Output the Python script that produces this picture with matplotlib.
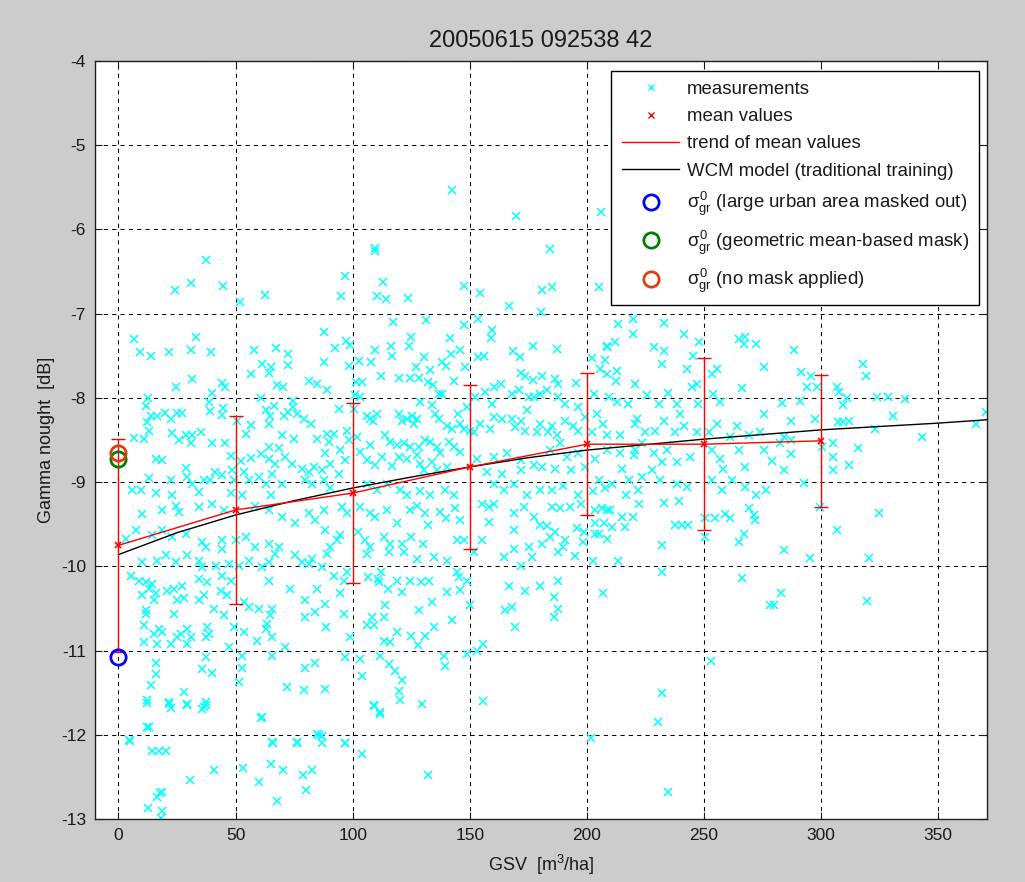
import matplotlib
matplotlib.use("Agg")
import matplotlib.pyplot as plt
from matplotlib.lines import Line2D

plt.rcParams['font.family'] = ['Liberation Sans', 'DejaVu Sans']
plt.rcParams['mathtext.fontset'] = 'custom'
plt.rcParams['mathtext.rm'] = 'Liberation Sans'
plt.rcParams['mathtext.it'] = 'Liberation Sans'
plt.rcParams['axes.unicode_minus'] = False

title = "20050615 092538 42"

meas_upper_left = [
    (37.2, -6.36), (24, -6.72), (30.8, -6.64), (44.5, -6.67), (51.7, -6.86), (62.4, -6.78),
    (6.7, -7.30), (9.2, -7.46), (14.1, -7.50), (21.6, -7.46), (30.8, -7.43), (33.2, -7.28),
    (39.5, -7.46), (58, -7.43), (67.2, -7.41), (72.4, -7.48), (61.5, -7.60), (65.2, -7.64),
    (64.5, -7.70), (72.2, -7.61), (56.7, -7.72), (31.2, -7.78), (24.6, -7.87), (44.3, -7.82),
    (45.7, -7.87), (40.1, -7.94), (67.8, -7.85), (70.3, -7.87), (81.3, -7.80), (84.8, -7.83),
]
meas_mid_left = [
    (12.6, -8.0), (11.6, -8.10), (38.6, -8.05), (38.9, -8.16), (44.8, -8.12), (44.3, -8.20),
    (60.9, -8.0), (63.1, -8.15), (66.3, -8.10), (74.7, -8.04), (74.4, -8.11), (14.1, -8.21),
    (16.6, -8.22), (19.7, -8.18), (22.3, -8.25), (25.1, -8.18), (27, -8.18), (12.4, -8.29),
    (13.1, -8.39), (6.8, -8.48), (10.9, -8.49), (23, -8.42), (25.9, -8.50), (28.7, -8.44),
    (31.5, -8.44), (30.8, -8.54), (35.1, -8.41), (40.1, -8.54), (45.4, -8.54), (50.7, -8.27),
    (56.7, -8.32), (54.5, -8.43), (64.2, -8.31), (64.9, -8.22), (69.9, -8.44), (70.6, -8.21),
    (72.4, -8.17), (76.3, -8.19), (79.1, -8.25), (82.4, -8.31), (75.1, -8.49), (84.7, -8.49),
    (48, -8.69), (52.4, -8.75), (56.8, -8.71), (60.9, -8.67), (64.2, -8.58), (68.5, -8.59),
    (64.2, -8.73), (67, -8.78), (71.3, -8.70), (74.1, -8.78), (78.4, -8.84), (81.3, -8.88),
    (83.4, -8.82), (15.9, -8.72), (18.8, -8.74), (28.7, -8.83), (13.1, -8.95), (22.3, -8.98),
    (29.4, -8.94), (31.5, -9.02), (36.5, -8.98), (39.3, -8.98), (41.2, -8.88), (44.3, -8.92),
    (48.6, -8.86), (49.3, -8.98), (53.5, -8.88), (55.7, -8.98), (59.9, -8.94), (62.8, -9.02),
    (65.6, -8.90), (69.9, -9.02), (6, -9.09), (9.5, -9.09), (15.9, -9.13), (23, -9.15),
    (34.4, -9.12), (47.9, -9.13), (52.8, -9.15), (65.2, -9.15), (79.8, -8.98), (82.7, -9.02),
]
meas_upper_center = [
    (142.6, -5.53), (169.6, -5.84), (109.5, -6.22), (184.4, -6.24), (206, -5.80),
    (109.7, -6.26), (96.9, -6.55), (112.8, -6.62), (95, -6.79), (110.4, -6.79), (114.2, -6.83),
    (123.5, -6.81), (147.7, -6.67), (154.6, -6.76), (166.8, -6.91), (180.9, -6.72), (180.5, -6.98),
    (87.6, -7.22), (117.2, -7.10), (131.5, -7.08), (147.7, -7.14), (153.4, -7.07), (159.5, -7.19),
    (159.1, -7.29), (92.6, -7.41), (97.3, -7.32), (98.7, -7.37), (109.7, -7.43), (116.5, -7.39),
    (116.8, -7.50), (124.9, -7.28), (123.9, -7.39), (141.7, -7.29), (145.7, -7.43), (130.3, -7.51),
    (87.6, -7.57), (102.8, -7.56), (107.8, -7.58), (98.3, -7.62), (112.3, -7.74), (119.7, -7.76),
    (124.7, -7.76), (127.2, -7.64), (128.2, -7.76), (133.2, -7.67), (132.1, -7.81), (134.3, -7.85),
    (138.2, -7.57), (140, -7.62), (142.2, -7.48), (143.2, -7.80), (148.1, -7.64), (153.6, -7.51),
    (156, -7.50), (168.5, -7.44), (171.4, -7.51), (176.9, -7.39), (171.7, -7.70), (173.8, -7.74),
    (176.9, -7.79), (180.9, -7.74), (101.6, -7.81), (104, -7.81), (89, -7.91), (101.1, -7.97),
    (103.3, -7.99), (136.8, -7.95), (138.3, -7.95), (148.9, -8.11), (152.4, -7.99), (156.7, -7.93),
    (160.3, -7.87), (163.2, -7.83), (168.1, -7.95), (171, -7.91), (175.2, -7.99), (177.4, -7.99),
    (180.2, -7.96),
]
meas_mid_center = [
    (94, -8.13), (100.4, -8.13), (106.1, -8.21), (107.5, -8.25), (110.4, -8.19), (108.9, -8.27),
    (119.7, -8.19), (121.1, -8.27), (123.2, -8.25), (125.3, -8.21), (127.4, -8.25), (126, -8.31),
    (128.9, -8.05), (133.9, -8.09), (135.3, -8.19), (136.8, -8.25), (140.3, -8.33), (142.5, -8.37),
    (145, -8.19), (146, -8.31), (147.4, -8.37), (150, -8.39), (151.7, -8.41), (154.6, -8.31),
    (158.8, -8.37), (159.5, -8.07), (160.3, -8.23), (163.9, -8.25), (168.1, -8.25), (169.5, -8.35),
    (171.7, -8.27), (173.8, -8.39), (178.8, -8.41), (180.2, -8.31), (174.5, -8.14), (89, -8.43),
    (91.9, -8.43), (89.7, -8.52), (97.6, -8.39), (98.3, -8.50), (101.9, -8.46), (107.5, -8.56),
    (114, -8.44), (116.1, -8.52), (119, -8.56), (121.8, -8.54), (124.7, -8.58), (128.2, -8.58),
    (131, -8.50), (133.2, -8.52), (136, -8.58), (141, -8.52), (143.2, -8.58), (146, -8.64),
    (88.3, -8.66), (94.7, -8.62), (103.3, -8.64), (96.9, -8.74), (90.5, -8.78), (106.1, -8.74),
    (112.5, -8.70), (109.7, -8.80), (119.7, -8.70), (116.8, -8.81), (123.2, -8.72), (127.4, -8.68),
    (128.9, -8.78), (133.9, -8.76), (137.5, -8.66), (130.3, -8.86), (136, -8.86), (140.3, -8.82),
    (153.1, -8.72), (160.3, -8.70), (165.9, -8.66), (171.7, -8.74), (177.4, -8.80), (157.4, -8.88),
    (163.8, -8.90), (171.7, -8.86), (180.9, -8.82), (86.9, -8.86), (94, -8.90), (87.8, -8.98),
    (90.5, -9.07), (106.1, -9.02), (110.4, -9.09), (114.7, -9.02), (120.4, -9.09), (123.2, -9.15),
    (128.9, -9.11), (133.2, -9.15), (139.6, -9.09), (143.2, -9.15), (160.3, -9.02), (164.5, -9.09),
    (168.8, -9.02), (174.5, -9.15), (180.2, -9.09),
]
meas_upper_right = [
    (185.1, -6.69), (205.3, -6.69), (213.5, -7.12), (219.7, -7.07), (219.7, -7.24), (233, -7.11),
    (241.3, -7.24), (247.7, -7.34), (187.2, -7.42), (208.5, -7.38), (212.1, -7.34), (208.8, -7.40),
    (228.5, -7.40), (233, -7.44), (232.3, -7.60), (245.3, -7.50), (264.8, -7.30), (267.7, -7.28),
    (267, -7.36), (272.4, -7.36), (275.6, -7.63), (202.1, -7.53), (207.8, -7.55), (205.7, -7.66),
    (208.5, -7.72), (212.8, -7.68), (212.4, -7.80), (220.4, -7.83), (242.7, -7.66), (244.9, -7.87),
    (247, -7.83), (253.4, -7.72), (255.5, -7.66), (266.2, -7.88), (186.3, -7.78), (187.7, -7.83),
    (195.5, -7.82),
    (288.4, -7.43), (291.5, -7.69), (295.8, -7.74), (294.1, -7.87), (298.3, -7.87), (318.1, -7.60),
    (319.3, -7.74), (306.8, -7.87), (307.5, -7.93),
]
meas_mid_right = [
    (203.1, -7.96), (209.5, -7.99), (213.1, -8.05), (217.4, -8.07), (225.7, -7.97), (230.7, -8.07),
    (234.7, -7.94), (238.5, -8.07), (240, -8.19), (247.4, -8.07), (253.8, -7.95), (256.7, -8.05),
    (275.8, -8.19), (182.9, -7.91), (187.9, -7.99), (190.7, -8.07), (196.4, -8.11), (204.3, -8.19),
    (199.3, -8.23), (190.7, -8.27), (194.3, -8.33), (185, -8.33), (183.6, -8.41), (187.2, -8.44),
    (196.4, -8.39), (202.1, -8.41), (207.1, -8.31), (208.5, -8.44), (214.2, -8.44), (220.7, -8.31),
    (221.4, -8.25), (224.9, -8.41), (229.2, -8.39), (232.8, -8.27), (237.8, -8.41), (241.3, -8.33),
    (247, -8.41), (252, -8.41), (255.5, -8.31), (261.3, -8.46), (264.1, -8.33), (269.1, -8.44),
    (274.1, -8.41), (184.3, -8.62), (188.6, -8.54), (191.5, -8.70), (196.4, -8.66), (203.6, -8.72),
    (208.5, -8.62), (214.2, -8.66), (220.7, -8.62), (223.5, -8.54), (220, -8.68), (215, -8.84),
    (228.5, -8.66), (232, -8.76), (234.2, -8.62), (238.5, -8.76), (244.2, -8.70), (253.4, -8.62),
    (256.9, -8.72), (258.3, -8.84), (264.8, -8.62), (267.7, -8.82), (275.6, -8.62), (186.5, -8.84),
    (193.1, -8.86), (199.3, -8.82), (205, -8.98), (210.7, -9.02), (217.8, -8.98), (223.5, -8.94),
    (227.8, -8.86), (231.3, -8.98), (253.4, -8.98), (257.7, -9.09), (262, -8.98), (267.7, -9.06),
    (272.1, -9.15), (276.4, -9.09), (185, -9.09), (190, -9.04), (196.4, -9.15), (202.8, -9.11),
    (207.8, -9.07), (216.8, -9.15), (221.8, -9.09), (238.5, -9.02), (242.7, -9.06),
]
meas_far_right = [
    (311.3, -8.00), (309.3, -8.09), (324.1, -7.99), (328.8, -7.99), (335.8, -8.01), (330.9, -8.22),
    (370.5, -8.17), (366.3, -8.31), (343.2, -8.47), (323.1, -8.37), (283.4, -8.06), (290.9, -8.04),
    (287.1, -8.27), (297.6, -8.25), (307.2, -8.29), (309.3, -8.29), (312, -8.27), (284.4, -8.46),
    (287, -8.50), (282.7, -8.54), (300.4, -8.58), (305.1, -8.54), (305.1, -8.70), (315.6, -8.59),
    (287.1, -8.67), (279.2, -8.75), (284.2, -8.86), (305.1, -8.86), (312.1, -8.80), (292.6, -9.01),
    (299.4, -9.30), (324.9, -9.37), (306.8, -9.57), (284.1, -9.80), (295.2, -9.90), (320.4, -9.90),
    (282.9, -10.32), (279.9, -10.46), (319.8, -10.41),
]
meas_low_left = [
    (10.2, -9.38), (18.8, -9.33), (24.4, -9.28), (25.9, -9.35), (34.4, -9.30), (40.1, -9.26),
    (45, -9.33), (58.5, -9.28), (64.2, -9.33), (69.9, -9.41), (75.6, -9.49), (81.3, -9.37),
    (84.1, -9.45), (7.4, -9.57), (3.1, -9.67), (14.5, -9.63), (18.8, -9.57), (23, -9.65),
    (28.7, -9.61), (35.8, -9.71), (37.2, -9.77), (44.3, -9.69), (44.3, -9.79), (50, -9.69),
    (54.3, -9.65), (58.5, -9.77), (64.2, -9.73), (68.5, -9.77), (67, -9.85), (75.6, -9.87),
    (82.7, -9.91), (10.2, -9.95), (16.6, -9.93), (20.2, -9.87), (24.4, -9.95), (29.4, -9.87),
    (34.4, -9.93), (35.8, -10.01), (41.5, -9.99), (47.2, -9.97), (51.4, -9.99), (55.7, -9.93),
    (61.4, -10.01), (64.2, -9.95), (78.4, -9.95), (81.3, -9.97), (5.3, -10.11), (8.8, -10.17),
    (11.6, -10.19), (14.5, -10.21), (13.1, -10.27), (15.9, -10.32), (15.2, -10.40), (10.2, -10.34),
    (20.9, -10.29), (23.7, -10.27), (27.3, -10.23), (25.1, -10.40), (27.9, -10.38), (34.4, -10.15),
    (37.9, -10.19), (36.5, -10.34), (34.4, -10.40), (44.3, -10.11), (47.9, -10.17), (43.6, -10.29),
    (46.4, -10.34), (53.6, -10.42), (55.7, -10.48), (59.9, -10.50), (64.2, -10.17), (65.6, -10.50),
    (64.9, -10.58), (63.5, -10.68), (62.8, -10.74), (65.6, -10.84), (73.4, -10.27), (79.8, -10.40),
    (84.1, -10.54), (79.8, -10.60), (84.8, -10.27), (11.6, -10.52), (11.6, -10.56), (23.7, -10.56),
    (40.8, -10.50), (45, -10.58), (10.9, -10.70), (17.3, -10.74), (18.8, -10.78), (15.2, -10.80),
    (29.4, -10.74), (26.6, -10.80), (25.1, -10.84), (30.8, -10.84), (22.3, -10.92), (29.4, -10.92),
    (10.9, -10.90), (16.6, -10.92), (37.9, -10.72), (38.6, -10.80), (37.5, -10.84), (47.2, -10.96),
    (49.3, -10.72), (53.6, -10.78), (59.2, -10.88), (65.6, -11.06), (71.3, -10.96), (52.8, -11.06),
    (52.8, -11.20), (51.4, -11.37), (15.9, -11.14), (15.9, -11.28), (13.8, -11.41), (37.2, -11.08),
    (35.8, -11.22), (40.1, -11.26), (12.4, -11.59), (21.6, -11.61), (28, -11.49), (29.4, -11.63),
    (37.2, -11.61), (36.5, -11.67), (72, -11.43), (79.1, -11.47), (79.8, -11.20), (84.1, -11.14),
    (61.4, -11.79), (13.1, -11.91), (4.5, -12.06), (65.6, -12.08), (76.3, -12.08), (84.8, -11.99),
]
meas_bottom_left = [
    (12.4, -11.62), (21.6, -11.63), (22.3, -11.68), (29.4, -11.65), (35.8, -11.69), (37.2, -11.64),
    (60.9, -11.80), (109, -11.66), (111.5, -11.75), (12.4, -11.91), (5, -12.07), (14.5, -12.19),
    (17.3, -12.19), (20.5, -12.19), (65.9, -12.09), (76.3, -12.09), (85.8, -12.0), (87, -12.10),
    (96.9, -12.10), (104, -12.23), (30.5, -12.53), (40.8, -12.41), (53.1, -12.39), (59.9, -12.56),
    (65.2, -12.34), (70.3, -12.42), (78.7, -12.48), (82.7, -12.41), (80.1, -12.65), (67.8, -12.78),
    (16.3, -12.73), (17.8, -12.69), (18.8, -12.68), (12.8, -12.87), (18.8, -12.90), (18.1, -12.98),
    (132, -12.47),
]
meas_low_center = [
    (87.6, -9.33), (95.4, -9.30), (97.6, -9.37), (103.3, -9.30), (107.5, -9.37), (109.7, -9.41),
    (114.7, -9.33), (119, -9.49), (124.7, -9.33), (127.6, -9.28), (130.8, -9.37), (132.2, -9.51),
    (137.2, -9.35), (140, -9.43), (143.9, -9.31), (146, -9.45), (155.3, -9.26), (158.1, -9.30),
    (160.3, -9.26), (168.8, -9.37), (173.1, -9.30), (177.4, -9.41), (180.2, -9.51), (168.8, -9.57),
    (158.1, -9.47), (155.3, -9.69), (88.3, -9.57), (93.3, -9.69), (90.5, -9.77), (89, -9.85),
    (94.7, -9.63), (102.3, -9.59), (105.1, -9.69), (107.5, -9.77), (106.1, -9.85), (113.2, -9.65),
    (116.1, -9.73), (115.4, -9.83), (121.8, -9.83), (121.1, -9.73), (125.1, -9.65), (130.1, -9.73),
    (127.5, -9.91), (134.6, -9.89), (140.3, -9.93), (144.6, -9.69), (147.4, -9.69), (151.7, -9.83),
    (164.5, -9.89), (168.8, -9.79), (175.2, -9.77), (176.6, -9.89), (180.9, -9.73), (171.7, -9.99),
    (86.9, -10.01), (91.9, -10.11), (96.2, -10.17), (97.6, -10.07), (106.7, -10.13), (110.7, -10.15),
    (111.4, -10.19), (115, -10.27), (118.9, -10.17), (121.1, -10.30), (124.7, -10.17), (129, -10.19),
    (132.5, -10.17), (112, -10.07), (144.6, -10.07), (145.3, -10.13), (148.9, -10.17), (146, -10.28),
    (140.3, -10.30), (166.7, -10.23), (173.4, -10.29), (180.2, -10.23), (88.3, -10.44), (94.7, -10.32),
    (96.2, -10.56), (114, -10.46), (108.3, -10.60), (113.2, -10.60), (109, -10.70), (106.1, -10.70),
    (128.2, -10.52), (133.9, -10.42), (134.6, -10.72), (142.4, -10.64), (150.3, -10.46), (165.2, -10.52),
    (168, -10.48), (169.5, -10.72), (88.7, -10.72), (99, -10.84), (113.2, -10.88), (116.1, -10.90),
    (118.9, -10.78), (125.1, -10.82), (128, -10.93), (130.8, -10.82), (138.9, -11.06), (139.6, -11.18),
    (148.9, -11.04), (153.1, -11.0), (155.6, -10.92), (96.9, -11.08), (103.3, -11.10), (111.8, -11.06),
    (115.4, -11.16), (118.2, -11.24), (121.1, -11.35), (104, -11.30), (88.3, -11.45), (119.7, -11.48),
    (120.4, -11.59), (109, -11.65), (111.8, -11.73), (129.6, -11.63), (155.7, -11.60), (96.9, -12.09),
    (86.9, -12.01),
]
meas_low_right = [
    (185, -9.29), (188.6, -9.31), (192.9, -9.29), (197.6, -9.26), (203.6, -9.33), (206.4, -9.31),
    (208.5, -9.33), (210, -9.33), (215, -9.41), (219.9, -9.41), (222.1, -9.26), (232.8, -9.25),
    (239.2, -9.22), (203.3, -9.49), (207.5, -9.48), (210.7, -9.53), (216.1, -9.53), (203.6, -9.61),
    (205, -9.62), (208.5, -9.67), (195.7, -9.55), (198.6, -9.59), (198.2, -9.71), (182.9, -9.52),
    (186.5, -9.59), (184.3, -9.65), (190.7, -9.69), (190, -9.77), (187.9, -9.83), (195, -9.88),
    (202.8, -9.93), (213.5, -9.93), (232.1, -9.74), (232.1, -10.07), (237.7, -9.51), (240.6, -9.51),
    (243.4, -9.51), (250.6, -9.43), (254.8, -9.43), (258.8, -9.38), (261.3, -9.43), (250.6, -9.65),
    (269.1, -9.31), (271.2, -9.39), (272, -9.45), (267, -9.61), (264.8, -9.71), (266.2, -10.14),
    (187.6, -10.17), (186.2, -10.36), (187.6, -10.50), (185.8, -10.60), (207.1, -10.32), (253.1, -11.12),
    (232.1, -11.50), (230.3, -11.84), (201.9, -12.03), (278.3, -10.46), (234.6, -12.68),
]

measurements = (meas_upper_left + meas_mid_left + meas_upper_center + meas_mid_center +
                meas_upper_right + meas_mid_right + meas_far_right + meas_low_left +
                meas_bottom_left + meas_low_center + meas_low_right)
meas_gsv = [p[0] for p in measurements]
meas_db = [p[1] for p in measurements]

# ---- mean values and standard deviations ----
mean_gsv = [0, 50, 100, 150, 200, 250, 300]
mean_db = [-9.75, -9.33, -9.13, -8.82, -8.55, -8.55, -8.51]
std_db = [1.26, 1.12, 1.07, 0.97, 0.84, 1.02, 0.78]

# ---- WCM model curve ----
wcm_gsv = [0, 25, 50, 75, 100, 125, 150, 175, 200, 250, 300, 350, 371]
wcm_db = [-9.86, -9.60, -9.39, -9.22, -9.07, -8.94, -8.82, -8.71, -8.62, -8.49, -8.38, -8.30, -8.26]

# ---- sigma_gr estimates at GSV = 0 ----
sig_urban = -11.08
sig_geo = -8.72
sig_nomask = -8.65

TXT = '#1a1a1a'

fig = plt.figure(figsize=(10.25, 8.82), dpi=100, facecolor='#cccccc')
ax = fig.add_axes([0.0927, 0.0711, 0.8705, 0.8601])
ax.set_facecolor('white')

ax.plot(meas_gsv, meas_db, linestyle='none', marker='x', color='#00ffff',
        markersize=6, markeredgewidth=1.1, zorder=2)
ax.plot(wcm_gsv, wcm_db, color='black', lw=1.0, zorder=3)
ax.plot(mean_gsv, mean_db, color='red', lw=1.0, zorder=4)
ax.errorbar(mean_gsv, mean_db, yerr=std_db, fmt='none', ecolor='red', elinewidth=1.0,
            capsize=4.7, capthick=1.0, zorder=4)
ax.plot(mean_gsv, mean_db, linestyle='none', marker='x', color='red', markersize=5,
        markeredgewidth=1.2, zorder=5)
ax.plot([0], [sig_urban], linestyle='none', marker='o', mfc='none', mec='#0000ff',
        markersize=11, mew=2, zorder=6)
ax.plot([0], [sig_geo], linestyle='none', marker='o', mfc='none', mec='#008000',
        markersize=11, mew=2, zorder=6)
ax.plot([0], [sig_nomask], linestyle='none', marker='o', mfc='none', mec='#dd4010',
        markersize=11, mew=2, zorder=6)

ax.set_xlim(-10, 371)
ax.set_ylim(-13, -4)
ax.set_xticks([0, 50, 100, 150, 200, 250, 300, 350])
ax.set_yticks([-13, -12, -11, -10, -9, -8, -7, -6, -5, -4])
ax.grid(True, color='black', linestyle=(0, (4, 4)), linewidth=0.75)
ax.set_axisbelow(True)
ax.tick_params(direction='in', top=True, right=True, length=5, width=0.8,
               labelsize=12.5, pad=6.5, colors=TXT)
for sp in ax.spines.values():
    sp.set_color('#222222')
    sp.set_linewidth(1.0)

ax.set_title(title, fontsize=17, pad=10, color=TXT)
ax.set_xlabel(r'GSV  [m$^3$/ha]', fontsize=13, labelpad=7, color=TXT)
ax.set_ylabel('Gamma nought  [dB]', fontsize=13, labelpad=4, color=TXT)

handles = [
    Line2D([], [], linestyle='none', marker='x', color='#00ffff', markersize=5, mew=1.0),
    Line2D([], [], linestyle='none', marker='x', color='red', markersize=5, mew=1.0),
    Line2D([], [], color='red', lw=1.0),
    Line2D([], [], color='black', lw=1.0),
    Line2D([], [], linestyle='none', marker='o', mfc='none', mec='#0000ff', markersize=11, mew=2),
    Line2D([], [], linestyle='none', marker='o', mfc='none', mec='#008000', markersize=11, mew=2),
    Line2D([], [], linestyle='none', marker='o', mfc='none', mec='#dd4010', markersize=11, mew=2),
]
labels = [
    'measurements',
    'mean values',
    'trend of mean values',
    'WCM model (traditional training)',
    r'$\sigma^0_{gr}$ (large urban area masked out)',
    r'$\sigma^0_{gr}$ (geometric mean-based mask)',
    r'$\sigma^0_{gr}$ (no mask applied)',
]
leg = ax.legend(handles, labels, loc='upper right', bbox_to_anchor=(0.991, 0.987),
                borderaxespad=0, fontsize=13.4, frameon=True, fancybox=False,
                edgecolor='black', framealpha=1, handlelength=3.1, handletextpad=0.4,
                labelspacing=0.55, borderpad=0.55)
leg.get_frame().set_linewidth(1.0)
for t in leg.get_texts():
    t.set_color(TXT)
leg.set_zorder(10)

fig.savefig('out.png', dpi=100, facecolor=fig.get_facecolor())
